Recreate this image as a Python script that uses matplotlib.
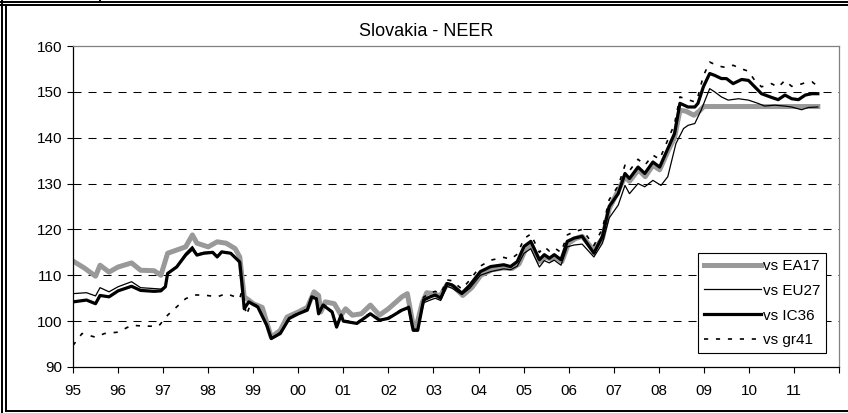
#%% Slovakia NEER figure

import matplotlib
matplotlib.use('Agg')
import matplotlib.pyplot as plt
from matplotlib.lines import Line2D

new_rc_params = {'lines.scale_dashes': False}
matplotlib.rcParams.update(new_rc_params)
matplotlib.rcParams['font.sans-serif'] = "Liberation Sans"
matplotlib.rcParams['font.family'] = "Liberation Sans"

# values (decimal years, index)
ea17_t = [1995.0, 1995.25, 1995.5, 1995.6, 1995.8, 1996.0, 1996.3, 1996.5, 1996.8, 1996.95,
          1997.1, 1997.3, 1997.5, 1997.65, 1997.75, 1998.0, 1998.2, 1998.4, 1998.6, 1998.7,
          1998.8, 1998.9, 1999.0, 1999.2, 1999.4, 1999.6, 1999.75, 2000.0, 2000.2, 2000.35,
          2000.45, 2000.5, 2000.6, 2000.8, 2000.95, 2001.05, 2001.2, 2001.4, 2001.6, 2001.8,
          2002.0, 2002.3, 2002.42, 2002.55, 2002.62, 2002.75, 2002.85, 2003.0, 2003.15, 2003.3,
          2003.45, 2003.65, 2003.85, 2004.05, 2004.3, 2004.55, 2004.75, 2004.9, 2005.05, 2005.17,
          2005.35, 2005.5, 2005.6, 2005.7, 2005.85, 2006.0, 2006.15, 2006.3, 2006.55, 2006.75,
          2006.9, 2007.05, 2007.25, 2007.35, 2007.55, 2007.7, 2007.87, 2008.02, 2008.2, 2008.35,
          2008.47, 2008.6, 2008.78, 2008.9, 2009.0, 2009.5, 2010.0, 2010.5, 2011.0, 2011.53]
ea17_v = [113.1, 111.6, 109.8, 112.2, 110.7, 111.8, 112.7, 111.1, 111.0, 110.0,
          114.8, 115.5, 116.2, 118.8, 117.0, 116.2, 117.3, 117.0, 115.8, 114.0,
          105.3, 104.6, 103.8, 103.0, 96.5, 98.0, 100.9, 102.0, 103.0, 106.4,
          105.6, 102.0, 104.2, 103.8, 101.3, 102.7, 101.3, 101.6, 103.5, 101.3,
          102.7, 105.3, 106.0, 99.0, 98.8, 104.0, 106.2, 106.0, 105.5, 108.0,
          107.5, 105.6, 107.3, 110.0, 111.2, 111.6, 111.5, 112.5, 115.8, 116.6,
          113.0, 114.0, 113.5, 114.0, 113.0, 117.0, 118.0, 118.5, 115.5, 118.0,
          124.5, 127.5, 131.5, 130.5, 133.0, 131.5, 134.0, 133.0, 137.0, 140.0,
          146.0, 145.8, 144.9, 145.8, 146.8, 146.8, 146.8, 146.8, 146.8, 146.8]

eu27_t = [1995.0, 1995.3, 1995.5, 1995.6, 1995.8, 1996.0, 1996.3, 1996.5, 1996.95, 1997.05,
          1997.1, 1997.3, 1997.5, 1997.65, 1997.75, 1997.9, 1998.1, 1998.2, 1998.3, 1998.5,
          1998.7, 1998.75, 1998.8, 1998.9, 1999.1, 1999.3, 1999.4, 1999.6, 1999.8, 2000.0,
          2000.2, 2000.3, 2000.4, 2000.45, 2000.55, 2000.75, 2000.85, 2000.95, 2001.0, 2001.3,
          2001.6, 2001.8, 2002.0, 2002.3, 2002.45, 2002.55, 2002.65, 2002.78, 2002.93, 2003.04,
          2003.16, 2003.3, 2003.41, 2003.63, 2003.81, 2004.04, 2004.27, 2004.56, 2004.71, 2004.86,
          2005.01, 2005.16, 2005.35, 2005.46, 2005.57, 2005.68, 2005.83, 2005.97, 2006.12, 2006.3,
          2006.56, 2006.75, 2006.9, 2007.1, 2007.25, 2007.35, 2007.54, 2007.69, 2007.87, 2008.05,
          2008.2, 2008.38, 2008.55, 2008.65, 2008.8, 2008.94, 2009.13, 2009.24, 2009.39, 2009.54,
          2009.77, 2009.99, 2010.2, 2010.35, 2010.57, 2010.8, 2010.95, 2011.17, 2011.32, 2011.53]
eu27_v = [106.0, 106.2, 105.5, 107.3, 106.4, 107.5, 108.6, 107.3, 107.0, 107.6,
          110.5, 112.0, 114.8, 116.3, 114.6, 115.0, 115.1, 114.2, 115.2, 114.9,
          113.0, 108.5, 102.9, 104.3, 103.2, 99.2, 96.3, 97.5, 100.7, 101.7,
          102.6, 105.2, 104.8, 101.8, 103.5, 102.2, 99.0, 101.2, 100.1, 99.6,
          101.5, 100.3, 100.7, 102.3, 102.8, 98.2, 98.1, 104.0, 104.6, 105.0,
          104.5, 107.6, 107.2, 105.8, 107.2, 110.0, 110.8, 111.4, 111.2, 112.0,
          114.8, 115.8, 111.8, 113.2, 112.7, 113.3, 112.2, 116.2, 116.6, 116.8,
          114.0, 117.0, 122.5, 125.3, 129.6, 127.8, 130.0, 129.3, 130.7, 129.6,
          131.5, 138.7, 142.0, 142.7, 143.1, 146.0, 150.7, 150.0, 148.9, 148.2,
          148.5, 148.2, 147.5, 146.9, 147.1, 146.9, 146.7, 146.1, 146.6, 146.7]

ic36_t = [1995.0, 1995.3, 1995.5, 1995.6, 1995.8, 1996.0, 1996.3, 1996.5, 1996.8, 1996.95,
          1997.05, 1997.1, 1997.3, 1997.5, 1997.65, 1997.75, 1997.9, 1998.1, 1998.2, 1998.3,
          1998.5, 1998.7, 1998.75, 1998.8, 1998.9, 1999.1, 1999.3, 1999.4, 1999.6, 1999.8,
          2000.0, 2000.2, 2000.3, 2000.4, 2000.45, 2000.55, 2000.75, 2000.85, 2000.95, 2001.0,
          2001.3, 2001.6, 2001.8, 2002.0, 2002.3, 2002.45, 2002.55, 2002.65, 2002.78, 2002.93,
          2003.04, 2003.16, 2003.3, 2003.41, 2003.63, 2003.81, 2004.04, 2004.27, 2004.56, 2004.71,
          2004.86, 2005.01, 2005.16, 2005.35, 2005.46, 2005.57, 2005.68, 2005.83, 2005.97, 2006.12,
          2006.3, 2006.56, 2006.75, 2006.9, 2007.1, 2007.25, 2007.35, 2007.54, 2007.69, 2007.87,
          2008.02, 2008.2, 2008.35, 2008.47, 2008.65, 2008.8, 2008.87, 2008.99, 2009.13, 2009.24,
          2009.39, 2009.5, 2009.65, 2009.84, 2009.99, 2010.13, 2010.28, 2010.5, 2010.65, 2010.8,
          2010.95, 2011.1, 2011.25, 2011.4, 2011.53]
ic36_v = [104.2, 104.6, 103.8, 105.6, 105.3, 106.6, 107.6, 106.7, 106.5, 106.6,
          107.5, 110.4, 111.8, 114.4, 115.8, 114.4, 114.8, 115.0, 114.0, 115.1,
          114.8, 112.9, 108.2, 102.7, 104.2, 103.1, 99.1, 96.2, 97.3, 100.6,
          101.6, 102.4, 105.3, 104.9, 101.6, 103.5, 102.0, 98.7, 101.3, 100.0,
          99.5, 101.6, 100.2, 100.6, 102.4, 103.0, 98.0, 98.0, 104.6, 105.3,
          105.7, 105.0, 108.2, 107.9, 106.1, 107.9, 110.8, 111.9, 112.3, 111.9,
          113.0, 116.3, 117.4, 113.4, 114.5, 113.7, 114.5, 113.4, 117.4, 118.1,
          118.5, 114.8, 118.5, 125.0, 127.8, 132.2, 131.1, 133.6, 132.2, 134.7,
          133.6, 137.6, 140.9, 147.5, 146.7, 146.7, 147.5, 151.1, 154.0, 153.6,
          152.9, 152.9, 151.8, 152.7, 152.5, 151.1, 149.6, 148.8, 148.3, 149.3,
          148.5, 148.3, 149.3, 149.6, 149.6]

gr41_t = [1995.0, 1995.2, 1995.5, 1995.7, 1996.0, 1996.3, 1996.6, 1996.9, 1997.1, 1997.3,
          1997.5, 1997.7, 1997.9, 1998.2, 1998.4, 1998.6, 1998.7, 1998.75, 1998.85, 1998.95,
          1999.1, 1999.3, 1999.4, 1999.6, 1999.8, 2000.0, 2000.2, 2000.3, 2000.4, 2000.45,
          2000.55, 2000.75, 2000.85, 2000.95, 2001.0, 2001.3, 2001.6, 2001.8, 2002.0, 2002.3,
          2002.45, 2002.55, 2002.65, 2002.78, 2002.93, 2003.04, 2003.16, 2003.3, 2003.41, 2003.63,
          2003.81, 2004.04, 2004.27, 2004.56, 2004.71, 2004.86, 2005.01, 2005.16, 2005.35, 2005.46,
          2005.57, 2005.68, 2005.83, 2005.97, 2006.12, 2006.3, 2006.56, 2006.75, 2006.9, 2007.1,
          2007.25, 2007.35, 2007.54, 2007.69, 2007.87, 2008.02, 2008.2, 2008.35, 2008.47, 2008.65,
          2008.8, 2008.87, 2008.99, 2009.13, 2009.24, 2009.39, 2009.5, 2009.65, 2009.84, 2009.99,
          2010.13, 2010.28, 2010.5, 2010.65, 2010.8, 2010.95, 2011.1, 2011.25, 2011.4, 2011.53]
gr41_v = [94.7, 97.3, 96.5, 97.3, 97.6, 99.1, 98.9, 98.9, 101.3, 103.1,
          104.9, 105.7, 105.7, 105.3, 106.0, 105.3, 104.9, 106.7, 101.3, 104.0,
          103.3, 99.3, 96.4, 97.5, 100.8, 101.8, 102.6, 105.5, 105.1, 101.8,
          103.7, 102.2, 98.9, 101.5, 100.2, 99.7, 101.8, 100.4, 100.8, 102.6,
          103.2, 98.2, 98.2, 105.2, 106.2, 106.5, 106.0, 109.0, 108.8, 107.0,
          109.0, 112.0, 113.3, 113.9, 113.5, 114.6, 118.0, 119.0, 115.0, 116.2,
          115.3, 116.0, 115.0, 118.8, 119.5, 120.0, 116.5, 120.2, 126.5, 129.5,
          134.0, 132.8, 135.3, 134.0, 136.2, 135.3, 139.5, 143.0, 148.9, 148.3,
          147.8, 149.0, 153.5, 156.5, 156.0, 155.5, 155.3, 155.8, 155.0, 154.5,
          152.5, 151.1, 151.8, 151.0, 152.5, 151.2, 151.5, 152.0, 152.2, 151.2]

year_ticks = list(range(1995, 2013))
year_labels = ['95', '96', '97', '98', '99', '00', '01', '02', '03', '04',
               '05', '06', '07', '08', '09', '10', '11', '']
y_ticks = [90, 100, 110, 120, 130, 140, 150, 160]
series_names = ['vs EA17', 'vs EU27', 'vs IC36', 'vs gr41']

fig = plt.figure(figsize=(8.48, 4.13), dpi=100)
ax = fig.add_axes([73/848, 1-367/413, 766/848, 321/413])

for yy in [100, 110, 120, 130, 140, 150]:
    ax.axhline(yy, color='black', linewidth=0.75, linestyle=(0, (5.8, 5.0)), zorder=1)

ax.plot(ea17_t, ea17_v, color='#999999', linewidth=3.6, solid_joinstyle='round', label=series_names[0], zorder=2)
ax.plot(eu27_t, eu27_v, color='black', linewidth=0.9, label=series_names[1], zorder=3)
ax.plot(ic36_t, ic36_v, color='black', linewidth=2.3, label=series_names[2], zorder=4)
ax.plot(gr41_t, gr41_v, color='black', linewidth=1.2, linestyle=(0, (3.0, 5.6)), label=series_names[3], zorder=5)

ax.set_xlim(1995, 2012)
ax.set_ylim(90, 160)
ax.set_xticks(year_ticks)
ax.set_xticklabels(year_labels)
ax.set_yticks(y_ticks)
ax.tick_params(axis='both', which='major', labelsize=11, length=4, width=0.8, direction='out', pad=4)
ax.tick_params(axis='x', pad=8)
ax.spines['left'].set_color('black')
ax.spines['bottom'].set_color('black')
ax.spines['left'].set_linewidth(0.9)
ax.spines['bottom'].set_linewidth(0.9)
ax.spines['top'].set_color('#808080')
ax.spines['right'].set_color('#808080')
ax.spines['top'].set_linewidth(0.9)
ax.spines['right'].set_linewidth(0.9)

leg = ax.legend(loc='lower right', bbox_to_anchor=(0.983, 0.0436), fontsize=11, frameon=True,
                fancybox=False, edgecolor='black', framealpha=1, handlelength=3.75,
                handletextpad=0.1, labelspacing=0.7, borderpad=0.38, borderaxespad=0)
leg.get_frame().set_linewidth(0.8)

fig.text(0.503, 1-31/413, 'Slovakia - NEER', ha='center', va='center', fontsize=13)

# sheet frame round the chart
W, H = 848.0, 413.0
frame = [((0, W), (1.5, 1.5)), ((0, W), (5, 5)), ((1.5, 1.5), (0, H)), ((5.5, 5.5), (5, 411)),
         ((5.5, W), (410.5, 410.5)), ((100, 100), (0, 1.5))]
for xs, ys in frame:
    fig.add_artist(Line2D([x/W for x in xs], [1-y/H for y in ys], color='black', linewidth=1.4,
                          transform=fig.transFigure))

plt.savefig('out.png', dpi=100)
